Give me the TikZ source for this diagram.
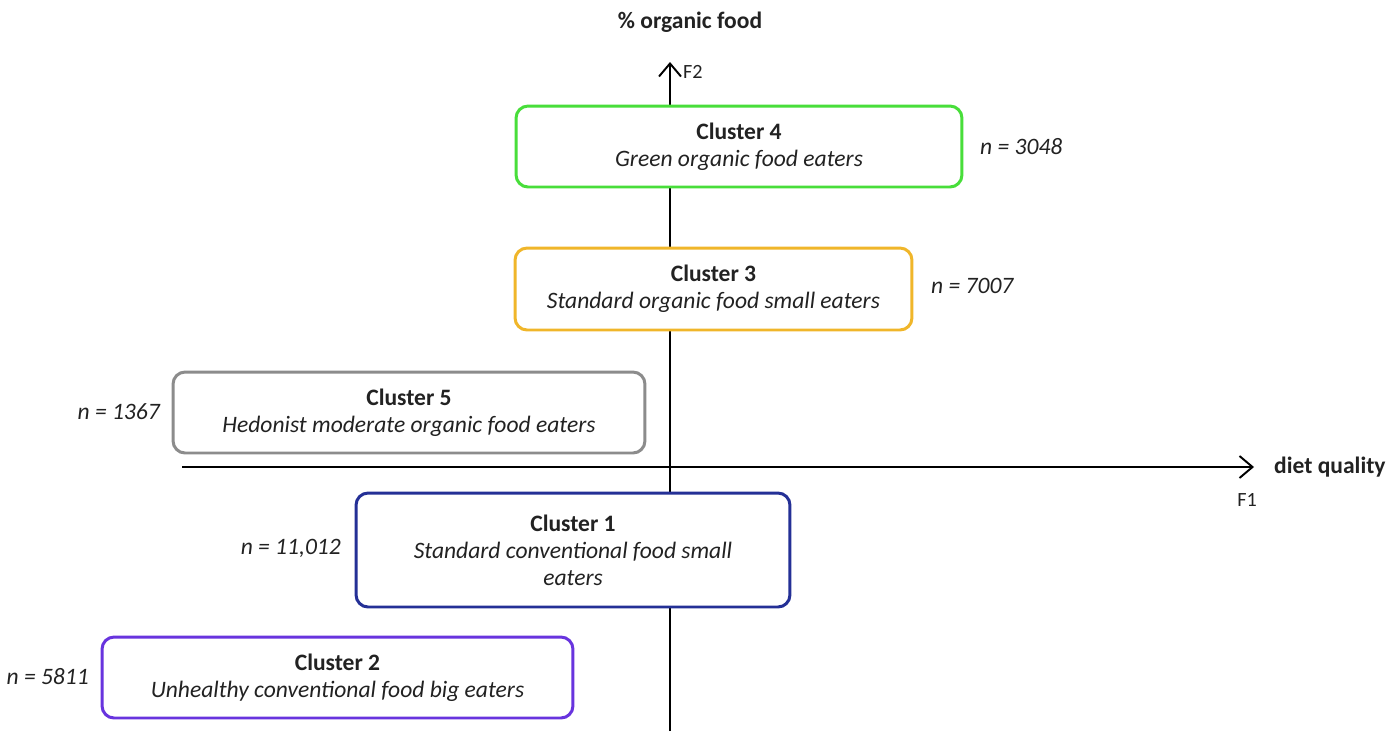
\documentclass[tikz,border=0pt]{standalone}
\usepackage{fontspec}
\setmainfont{Carlito}
\usetikzlibrary{arrows.meta}

\definecolor{clugreen}{RGB}{72,222,58}
\definecolor{cluorange}{RGB}{240,182,42}
\definecolor{clugray}{RGB}{140,140,140}
\definecolor{clublue}{RGB}{36,48,150}
\definecolor{clupurple}{RGB}{104,52,222}
\definecolor{txt}{RGB}{34,34,34}

\begin{document}
\begin{tikzpicture}[x=0.02cm, y=-0.02cm,
    font=\fontsize{13.4}{15.4}\selectfont, text=txt,
    axis/.style={line width=1.1pt, -{Straight Barb[length=2.6mm, width=4.4mm, line width=1.1pt]}},
    clubox/.style={line width=1.7pt, rounded corners=0.24cm, fill=white,
                   align=center, inner sep=0pt},
    nlabel/.style={font=\fontsize{13.4}{15.4}\selectfont\itshape}]
    \useasboundingbox (0,0) rectangle (1400,731);

    % Axes
    \coordinate (ybot) at (670,731);
    \coordinate (ytop) at (670,62);
    \coordinate (xleft) at (182,467);
    \coordinate (xright) at (1254,467);
    \draw[axis] (ybot) -- (ytop);
    \draw[axis] (xleft) -- (xright);

    % Axis labels
    \node[font=\fontsize{13.4}{15.4}\selectfont\bfseries] (ytitle) at (690,22) {\% organic food};
    \node[anchor=west, font=\fontsize{11.5}{12}\selectfont] (f2) at (677,72) {F2};
    \node[anchor=west, font=\fontsize{13.4}{15.4}\selectfont\bfseries] (xtitle) at (1268,467) {diet quality};
    \node[font=\fontsize{11.5}{12}\selectfont] (f1) at (1247,500) {F1};

    % Clusters
    \node[clubox, draw=clugreen, minimum width=8.92cm, minimum height=1.62cm] (c4) at (739,146.5)
        {\textbf{Cluster 4}\\ \textit{Green organic food eaters}};
    \node[clubox, draw=cluorange, minimum width=7.94cm, minimum height=1.64cm] (c3) at (713.5,289)
        {\textbf{Cluster 3}\\ \textit{Standard organic food small eaters}};
    \node[clubox, draw=clugray, minimum width=9.44cm, minimum height=1.62cm] (c5) at (409,412.5)
        {\textbf{Cluster 5}\\ \textit{Hedonist moderate organic food eaters}};
    \node[clubox, draw=clublue, minimum width=8.68cm, minimum height=2.28cm] (c1) at (573,550)
        {\textbf{Cluster 1}\\ \textit{Standard conventional food small}\\ \textit{eaters}};
    \node[clubox, draw=clupurple, minimum width=9.42cm, minimum height=1.62cm] (c2) at (337.5,677.5)
        {\textbf{Cluster 2}\\ \textit{Unhealthy conventional food big eaters}};

    % Sizes
    \node[nlabel, anchor=west] (n4) at (974,147) {n = 3048};
    \node[nlabel, anchor=west] (n3) at (925,286) {n = 7007};
    \node[nlabel, anchor=east] (n5) at (166,412) {n = 1367};
    \node[nlabel, anchor=east] (n1) at (347,548) {n = 11,012};
    \node[nlabel, anchor=east] (n2) at (95,677) {n = 5811};
\end{tikzpicture}
\end{document}
